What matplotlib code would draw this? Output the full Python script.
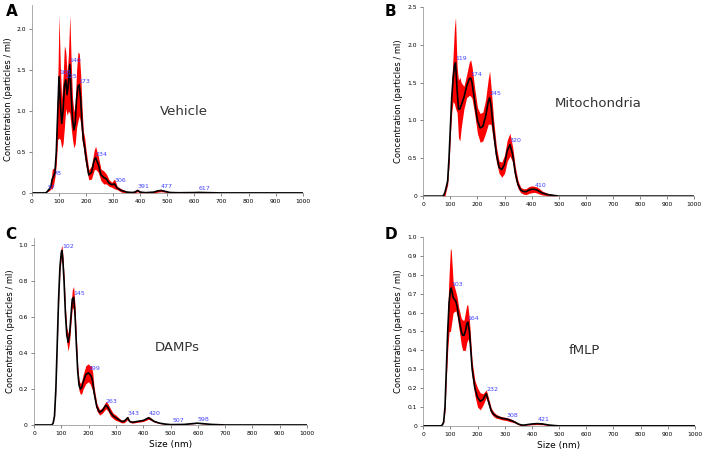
import numpy as np
import matplotlib
matplotlib.use('Agg')
import matplotlib.pyplot as plt

# ---- data (size in nm, mean concentration, error) ----
a_size = [0, 50, 55, 60, 65, 70, 75, 80, 85, 90, 95, 100, 105, 110, 115, 120, 125, 130, 135, 140,
          145, 150, 155, 160, 165, 170, 175, 180, 185, 190, 195, 200, 210, 220, 230, 235, 245, 255, 265, 275,
          285, 295, 305, 315, 330, 350, 370, 380, 390, 400, 420, 450, 465, 477, 490, 510, 540, 600, 617, 640,
          700, 1000]
a_mean = [0, 0, 0.01, 0.03, 0.05, 0.08, 0.17, 0.2, 0.25, 0.5, 0.95, 1.42, 1.1, 0.85, 1.0, 1.3, 1.38, 1.2, 1.35, 1.57,
          1.2, 0.9, 0.77, 0.85, 1.15, 1.3, 1.32, 1.15, 0.85, 0.65, 0.55, 0.42, 0.22, 0.25, 0.4, 0.43, 0.35, 0.22, 0.19, 0.17,
          0.12, 0.1, 0.11, 0.06, 0.03, 0.01, 0.005, 0.01, 0.03, 0.01, 0.003, 0.01, 0.025, 0.03, 0.02, 0.005, 0.002, 0.004, 0.006, 0.004,
          0, 0]
a_err = [0, 0, 0, 0.01, 0.02, 0.03, 0.12, 0.1, 0.06, 0.15, 0.3, 0.75, 0.45, 0.3, 0.4, 0.5, 0.35, 0.25, 0.35, 0.6,
         0.4, 0.25, 0.22, 0.25, 0.35, 0.42, 0.38, 0.3, 0.2, 0.1, 0.12, 0.1, 0.06, 0.08, 0.12, 0.14, 0.1, 0.07, 0.08, 0.06,
         0.04, 0.03, 0.06, 0.02, 0.02, 0.01, 0.005, 0.01, 0.015, 0.01, 0.003, 0.01, 0.015, 0.015, 0.01, 0.003, 0.001, 0.002, 0.003, 0.002,
         0, 0]
a_peaks = [57, 78, 100, 125, 140, 173, 234, 306, 391, 477, 617]

b_size = [0, 70, 75, 80, 85, 90, 95, 100, 105, 110, 115, 119, 125, 130, 135, 140, 150, 160, 170, 175,
          180, 190, 200, 210, 220, 230, 240, 245, 250, 260, 270, 280, 290, 300, 310, 320, 330, 340, 350, 360,
          370, 380, 390, 400, 410, 420, 430, 440, 460, 480, 500, 1000]
b_mean = [0, 0, 0.01, 0.05, 0.12, 0.2, 0.5, 0.9, 1.3, 1.55, 1.72, 1.76, 1.4, 1.15, 1.15, 1.2, 1.3, 1.45, 1.55, 1.56,
          1.5, 1.25, 1.0, 0.9, 0.92, 1.05, 1.25, 1.3, 1.2, 0.85, 0.55, 0.38, 0.35, 0.42, 0.6, 0.68, 0.55, 0.3, 0.15, 0.08,
          0.06, 0.06, 0.08, 0.09, 0.09, 0.08, 0.06, 0.04, 0.02, 0.01, 0, 0]
b_err = [0, 0, 0.01, 0.05, 0.04, 0.05, 0.1, 0.1, 0.2, 0.3, 0.5, 0.6, 0.3, 0.38, 0.42, 0.3, 0.15, 0.15, 0.22, 0.24,
         0.21, 0.17, 0.17, 0.19, 0.19, 0.22, 0.3, 0.35, 0.25, 0.15, 0.1, 0.08, 0.1, 0.12, 0.14, 0.15, 0.1, 0.08, 0.05, 0.035,
         0.035, 0.04, 0.045, 0.045, 0.04, 0.04, 0.035, 0.025, 0.015, 0.01, 0, 0]
b_peaks = [119, 174, 245, 320, 410]

c_size = [0, 65, 70, 75, 80, 85, 90, 95, 100, 102, 105, 110, 115, 120, 125, 130, 135, 140, 145, 150,
          155, 160, 165, 170, 175, 180, 190, 199, 205, 210, 215, 220, 230, 240, 250, 263, 270, 280, 290, 300,
          310, 320, 330, 343, 350, 360, 380, 400, 420, 430, 440, 460, 480, 500, 550, 598, 650, 700, 1000]
c_mean = [0, 0, 0.01, 0.05, 0.2, 0.45, 0.7, 0.88, 0.96, 0.97, 0.93, 0.8, 0.62, 0.5, 0.46, 0.5, 0.6, 0.7, 0.71, 0.62,
          0.45, 0.3, 0.22, 0.2, 0.21, 0.24, 0.28, 0.29, 0.28, 0.27, 0.24, 0.18, 0.1, 0.07, 0.08, 0.11, 0.1, 0.07, 0.05, 0.04,
          0.03, 0.02, 0.02, 0.04, 0.02, 0.015, 0.02, 0.025, 0.04, 0.03, 0.02, 0.01, 0.005, 0.002, 0.003, 0.01, 0.003, 0, 0]
c_err = [0, 0, 0, 0.005, 0.01, 0.015, 0.02, 0.025, 0.03, 0.03, 0.03, 0.03, 0.035, 0.04, 0.05, 0.04, 0.04, 0.05, 0.06, 0.05,
         0.04, 0.03, 0.03, 0.03, 0.035, 0.04, 0.05, 0.05, 0.05, 0.06, 0.05, 0.03, 0.02, 0.015, 0.015, 0.02, 0.02, 0.02, 0.015, 0.015,
         0.01, 0.008, 0.008, 0.01, 0.005, 0.005, 0.005, 0.006, 0.008, 0.006, 0.004, 0.002, 0.001, 0.001, 0.001, 0.001, 0.001, 0, 0]
c_peaks = [102, 145, 199, 263, 343, 420, 507, 598]

d_size = [0, 65, 70, 75, 80, 85, 90, 95, 100, 103, 110, 120, 125, 130, 140, 145, 150, 155, 160, 164,
          170, 175, 180, 190, 200, 210, 220, 232, 240, 250, 260, 270, 280, 290, 300, 310, 320, 330, 340, 350,
          360, 370, 380, 400, 420, 440, 460, 480, 500, 1000]
d_mean = [0, 0, 0.005, 0.02, 0.1, 0.3, 0.5, 0.65, 0.72, 0.73, 0.68, 0.66, 0.63, 0.58, 0.5, 0.48, 0.48, 0.5, 0.54, 0.55,
          0.5, 0.4, 0.3, 0.2, 0.15, 0.13, 0.14, 0.17, 0.13, 0.08, 0.06, 0.05, 0.045, 0.04, 0.038, 0.035, 0.03, 0.025, 0.018, 0.01,
          0.005, 0.004, 0.006, 0.01, 0.012, 0.01, 0.005, 0.002, 0, 0]
d_err = [0, 0, 0, 0.005, 0.02, 0.05, 0.1, 0.15, 0.22, 0.2, 0.08, 0.05, 0.05, 0.05, 0.07, 0.08, 0.08, 0.1, 0.1, 0.09,
         0.06, 0.05, 0.04, 0.04, 0.05, 0.045, 0.03, 0.02, 0.02, 0.015, 0.012, 0.01, 0.008, 0.008, 0.008, 0.008, 0.008, 0.006, 0.005, 0.004,
         0.003, 0.002, 0.002, 0.004, 0.005, 0.004, 0.003, 0.001, 0, 0]
d_peaks = [103, 164, 232, 308, 421]

panels = [
    # letter, name, size, mean, err, peaks, ymax, ystep, axes rect, name pos, letter pos, ylabel x, xlabel
    ('A', 'Vehicle', a_size, a_mean, a_err, a_peaks, 2.3, 0.5, [0.045, 0.576, 0.382, 0.414], (560, 1.0), (0.008, 0.975), 0.012, False),
    ('B', 'Mitochondria', b_size, b_mean, b_err, b_peaks, 2.5, 0.5, [0.597, 0.569, 0.382, 0.416], (645, 1.22), (0.542, 0.975), 0.562, False),
    ('C', 'DAMPs', c_size, c_mean, c_err, c_peaks, 1.04, 0.2, [0.048, 0.066, 0.385, 0.411], (524, 0.43), (0.008, 0.485), 0.015, True),
    ('D', 'fMLP', d_size, d_mean, d_err, d_peaks, 1.0, 0.1, [0.597, 0.064, 0.383, 0.415], (592, 0.40), (0.542, 0.485), 0.562, True),
]

fig = plt.figure(figsize=(7.09, 4.55), dpi=100)

for letter, name, size, mean, err, peaks, ymax, ystep, rect, npos, lpos, ylx, show_x in panels:
    ax = fig.add_axes(rect)
    size = np.array(size, dtype=float)
    mean = np.array(mean)
    err = np.array(err)
    ax.fill_between(size, np.clip(mean - err, 0, None), mean + err, color='#ff0000', lw=0)
    ax.plot(size, mean, color='black', lw=1.2)
    for p in peaks:
        ax.annotate(str(p), (p, np.interp(p, size, mean)), xytext=(0, 1), textcoords='offset points',
                    fontsize=4.5, color='#4040ff', ha='left', va='bottom')
    ax.text(npos[0], npos[1], name, fontsize=9.5, color='#333333', ha='center', va='center')

    ax.set_xlim(0, 1000)
    ax.set_ylim(0, ymax)
    ax.set_xticks(np.arange(0, 1001, 100))
    yt = np.arange(0, ymax + 1e-9, ystep)
    ax.set_yticks(yt)
    ax.set_yticklabels(['0'] + ['%.1f' % v for v in yt[1:]])
    ax.tick_params(labelsize=4.3, length=2.5, width=0.5, color='#555555', pad=2)
    for s in ['top', 'right']:
        ax.spines[s].set_visible(False)
    for s in ['left', 'bottom']:
        ax.spines[s].set_linewidth(0.5)
        ax.spines[s].set_color('#888888')

    fig.text(ylx, rect[1] + rect[3] / 2, 'Concentration (particles / ml)', rotation=90,
             fontsize=6, ha='center', va='center')
    if show_x:
        ax.set_xlabel('Size (nm)', fontsize=6.5, labelpad=3)
    fig.text(lpos[0], lpos[1], letter, fontsize=11, fontweight='bold', ha='left', va='center')

fig.savefig('out.png', dpi=100)
